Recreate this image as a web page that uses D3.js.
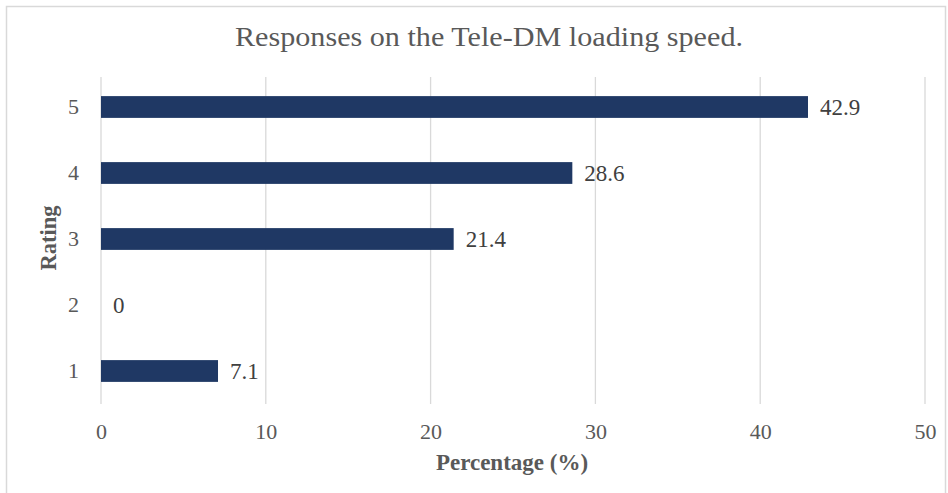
<!DOCTYPE html>
<html>
<head>
<meta charset="utf-8">
<script src="https://cdn.jsdelivr.net/npm/d3@7"></script>
<style>
  html, body { margin: 0; padding: 0; background: #fff; }
  svg { display: block; font-family: "Liberation Serif", "Times New Roman", serif; }
</style>
</head>
<body>
<svg id="chart" width="948" height="493"></svg>
<script>
// Ratings (bottom to top) and share of responses in percent
const ratings = ["1", "2", "3", "4", "5"];
const percentages = [7.1, 0, 21.4, 28.6, 42.9];
const xTicks = [0, 10, 20, 30, 40, 50];
const titleText = "Responses on the Tele-DM loading speed.";
const xTitle = "Percentage (%)";
const yTitle = "Rating";

const svg = d3.select("#chart");
const W = 948, H = 493;
const margin = { left: 101, right: 23, top: 74, bottom: 89 };
const serif = "Liberation Serif, Times New Roman, serif";

// Chart frame
svg.append("rect")
  .attr("x", 6.5).attr("y", 6.5)
  .attr("width", 939).attr("height", 500)
  .attr("fill", "#fff")
  .attr("stroke", "#d9d9d9").attr("stroke-width", 1.5);

const x = d3.scaleLinear()
  .domain([0, 50])
  .range([margin.left, W - margin.right]);

const y = d3.scaleBand()
  .domain(ratings.slice().reverse())
  .range([margin.top, H - margin.bottom])
  .paddingInner(0.67)
  .paddingOuter(0.335);

// Vertical gridlines
svg.append("g")
  .selectAll("line")
  .data(xTicks)
  .join("line")
  .attr("x1", d => x(d)).attr("x2", d => x(d))
  .attr("y1", margin.top + 3).attr("y2", H - margin.bottom)
  .attr("stroke", "#d9d9d9").attr("stroke-width", 1.3);

// X axis tick labels
const xAxis = d3.axisBottom(x).tickValues(xTicks).tickSize(0).tickPadding(0);
svg.append("g")
  .attr("transform", `translate(0,${H - margin.bottom + 19})`)
  .call(xAxis)
  .call(g => g.select(".domain").remove())
  .selectAll("text")
  .attr("font-family", serif)
  .attr("font-size", 22)
  .attr("fill", "#595959");

// Y axis tick labels
const yAxis = d3.axisLeft(y).tickSize(0).tickPadding(0);
svg.append("g")
  .attr("transform", `translate(${margin.left - 22},0)`)
  .call(yAxis)
  .call(g => g.select(".domain").remove())
  .selectAll("text")
  .attr("font-family", serif)
  .attr("font-size", 22)
  .attr("fill", "#595959");

// Bars
const data = ratings.map((r, i) => ({ rating: r, value: percentages[i] }));
svg.append("g")
  .selectAll("rect")
  .data(data)
  .join("rect")
  .attr("x", x(0))
  .attr("y", d => y(d.rating))
  .attr("width", d => x(d.value) - x(0))
  .attr("height", y.bandwidth())
  .attr("fill", "#1f3864");

// Value labels
svg.append("g")
  .selectAll("text")
  .data(data)
  .join("text")
  .attr("x", d => x(d.value) + 12)
  .attr("y", d => y(d.rating) + y.bandwidth() / 2)
  .attr("dy", "0.36em")
  .attr("font-size", 23)
  .attr("fill", "#404040")
  .text(d => d.value);

// Title
svg.append("text")
  .attr("x", 489)
  .attr("y", 46)
  .attr("text-anchor", "middle")
  .attr("font-size", 27)
  .attr("fill", "#595959")
  .attr("textLength", 508)
  .attr("lengthAdjust", "spacingAndGlyphs")
  .text(titleText);

// Axis titles
svg.append("text")
  .attr("x", 512)
  .attr("y", 470)
  .attr("text-anchor", "middle")
  .attr("font-size", 23)
  .attr("font-weight", "bold")
  .attr("fill", "#595959")
  .text(xTitle);

svg.append("text")
  .attr("transform", `translate(56,238) rotate(-90)`)
  .attr("text-anchor", "middle")
  .attr("font-size", 22.5)
  .attr("font-weight", "bold")
  .attr("fill", "#595959")
  .text(yTitle);
</script>
</body>
</html>
